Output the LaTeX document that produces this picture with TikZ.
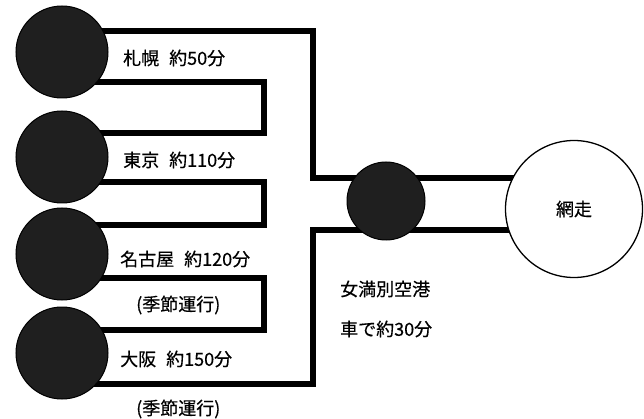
\documentclass[tikz,border=0pt]{standalone}
\usepackage{fontspec}
\newfontfamily\jp[FakeBold=0.4]{Noto Sans CJK JP}
\usetikzlibrary{backgrounds}
\tikzset{
  stop/.style={circle, fill=black!88, draw=black, line width=1pt, minimum size=92pt, inner sep=0pt},
  airport/.style={circle, fill=black!88, draw=black, line width=1pt, minimum size=78pt, inner sep=0pt},
  dest/.style={circle, fill=white, draw=black, line width=1.3pt, minimum size=137pt, inner sep=0pt, font=\jp\fontsize{18}{21}\selectfont},
  band/.style={line width=6pt, line join=miter, line cap=butt, draw=black},
  lbl/.style={anchor=west, inner sep=0pt, font=\jp\fontsize{18}{21}\selectfont}
}
\begin{document}
\begin{tikzpicture}[x=1pt,y=-1pt]
\useasboundingbox (0,0) rectangle (644,419);
% nodes
\node[stop] (c1) at (62,52) {};
\node[stop] (c2) at (62,157) {};
\node[stop] (c3) at (62,254) {};
\node[stop] (c4) at (62,353) {};
\node[airport] (air) at (386,201) {};
\node[dest] (abashiri) at (574,209) {網走};
% bend points
\coordinate (jt) at (313,178);
\coordinate (jb) at (313,230);
\coordinate (k1) at (264,133);
\coordinate (k2) at (264,225);
\coordinate (k3) at (264,330);
% connectors
\begin{scope}[on background layer]
\draw[band] (c1) ++(0,-20.5) -| (jt) -- (abashiri.center |- jt);
\draw[band] (c4) ++(0,30.5) -| (jb) -- (abashiri.center |- jb);
\draw[band] (c1) ++(0,30.5) -| (k1) -- (c2.center |- k1);
\draw[band] (c2) ++(0,25.5) -| (k2) -- (c3.center |- k2);
\draw[band] (c3) ++(0,24) -| (k3) -- (c4.center |- k3);
\end{scope}
% labels
\node[lbl] (l1) at (123,58) {札幌\hspace{10pt}約50分};
\node[lbl] (l2) at (123,160) {東京\hspace{10pt}約110分};
\node[lbl] (l3) at (120,259) {名古屋\hspace{10pt}約120分};
\node[lbl] (l4) at (136,305) {(季節運行)};
\node[lbl] (l5) at (120,359) {大阪\hspace{10pt}約150分};
\node[lbl] (l6) at (136,409) {(季節運行)};
\node[lbl] (l7) at (340,289) {女満別空港};
\node[lbl] (l8) at (340,329) {車で約30分};
\end{tikzpicture}
\end{document}
